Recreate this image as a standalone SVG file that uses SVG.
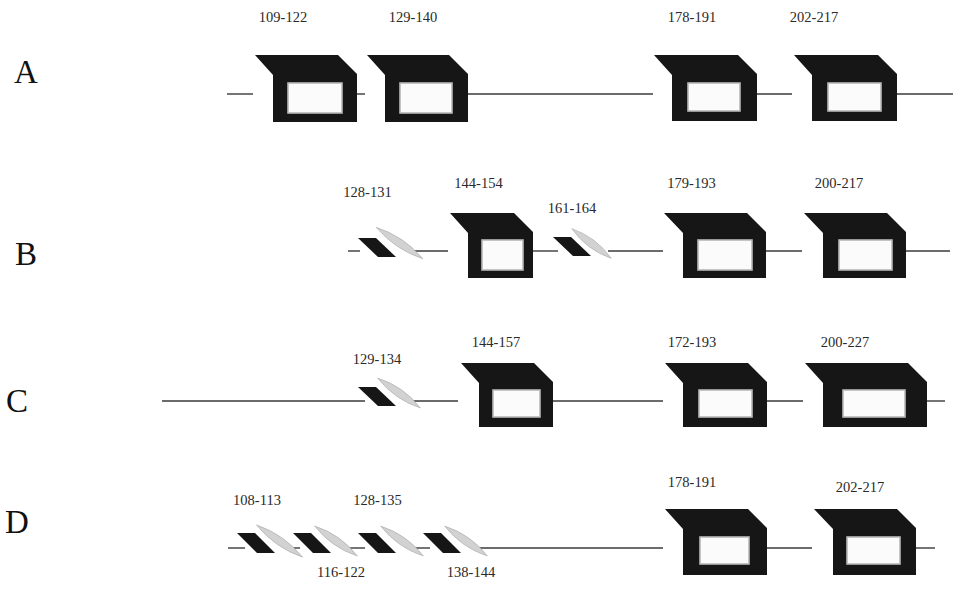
<svg xmlns="http://www.w3.org/2000/svg" xmlns:xlink="http://www.w3.org/1999/xlink" width="969" height="600" viewBox="0 0 969 600">
<style>
.bg{fill:#fff}
.box{fill:#161616}
.win{fill:#fbfbfb;stroke:#b8b8b8;stroke-width:1.6}
.ln{stroke:#3a3a3a;stroke-width:1.4;fill:none}
.par{fill:#161616}
.lens{fill:#d2d2d2;stroke:#a8a8a8;stroke-width:0.6}
.lab{font-family:"Liberation Serif","Times New Roman",serif;font-size:14.5px;fill:#2a2a2a;text-anchor:middle}
.row{font-family:"Liberation Serif","Times New Roman",serif;font-size:33px;fill:#111}
</style>
<defs>
<path id="pg" d="M0,0 L18,0 L38,19 L20,19 Z"/>
<path id="lz" d="M-28,0 Q0,-8 28,0 Q0,8 -28,0 Z"/>
</defs>
<rect class="bg" x="0" y="0" width="969" height="600"/>

<g id="row-labels">
<text class="row" x="14" y="83">A</text>
<text class="row" x="15" y="265">B</text>
<text class="row" x="6" y="412">C</text>
<text class="row" x="5" y="533">D</text>
</g>

<g id="connectors">
<line class="ln" x1="227" y1="94" x2="253" y2="94"/>
<line class="ln" x1="357" y1="94" x2="365" y2="94"/>
<line class="ln" x1="468" y1="94" x2="653" y2="94"/>
<line class="ln" x1="757" y1="94" x2="792" y2="94"/>
<line class="ln" x1="897" y1="94" x2="953" y2="94"/>

<line class="ln" x1="348" y1="251" x2="360" y2="251"/>
<line class="ln" x1="413" y1="251" x2="448" y2="251"/>
<line class="ln" x1="533" y1="251" x2="558" y2="251"/>
<line class="ln" x1="608" y1="251" x2="663" y2="251"/>
<line class="ln" x1="766" y1="251" x2="802" y2="251"/>
<line class="ln" x1="906" y1="251" x2="950" y2="251"/>

<line class="ln" x1="162" y1="401" x2="365" y2="401"/>
<line class="ln" x1="413" y1="401" x2="458" y2="401"/>
<line class="ln" x1="553" y1="401" x2="663" y2="401"/>
<line class="ln" x1="767" y1="401" x2="803" y2="401"/>
<line class="ln" x1="927" y1="401" x2="945" y2="401"/>

<line class="ln" x1="228" y1="548" x2="245" y2="548"/>
<line class="ln" x1="292" y1="548" x2="300" y2="548"/>
<line class="ln" x1="350" y1="548" x2="365" y2="548"/>
<line class="ln" x1="415" y1="548" x2="430" y2="548"/>
<line class="ln" x1="478" y1="548" x2="663" y2="548"/>
<line class="ln" x1="767" y1="548" x2="812" y2="548"/>
<line class="ln" x1="916" y1="548" x2="935" y2="548"/>
</g>

<!-- Row A -->
<g id="A-109-122">
<polygon class="box" points="255,55 338,55 357,74 357,122 273,122 273,75"/>
<rect class="win" x="288" y="83" width="54" height="30"/>
<text class="lab" x="283" y="22">109-122</text>
</g>
<g id="A-129-140">
<polygon class="box" points="367,55 449,55 468,74 468,122 385,122 385,75"/>
<rect class="win" x="400" y="83" width="52" height="30"/>
<text class="lab" x="413" y="22">129-140</text>
</g>
<g id="A-178-191">
<polygon class="box" points="654,55 738,55 757,74 757,121 672,121 672,75"/>
<rect class="win" x="688" y="83" width="52" height="28"/>
<text class="lab" x="692" y="22">178-191</text>
</g>
<g id="A-202-217">
<polygon class="box" points="794,55 878,55 897,74 897,121 812,121 812,75"/>
<rect class="win" x="828" y="83" width="53" height="28"/>
<text class="lab" x="814" y="22">202-217</text>
</g>

<!-- Row B -->
<g id="B-128-131">
<use xlink:href="#lz" class="lens" transform="translate(399.5,243) rotate(34)"/>
<use xlink:href="#pg" class="par" transform="translate(358,238)"/>
<text class="lab" x="367.5" y="197">128-131</text>
</g>
<g id="B-144-154">
<polygon class="box" points="450,213 514,213 533,232 533,278 468,278 468,233"/>
<rect class="win" x="482" y="240" width="41" height="30"/>
<text class="lab" x="478.5" y="188">144-154</text>
</g>
<g id="B-161-164">
<use xlink:href="#lz" class="lens" transform="translate(591.5,243.5) rotate(37) scale(0.88,1)"/>
<use xlink:href="#pg" class="par" transform="translate(553,237)"/>
<text class="lab" x="572" y="213">161-164</text>
</g>
<g id="B-179-193">
<polygon class="box" points="664,213 747,213 766,232 766,278 683,278 683,233"/>
<rect class="win" x="698" y="240" width="54" height="30"/>
<text class="lab" x="691.5" y="188">179-193</text>
</g>
<g id="B-200-217">
<polygon class="box" points="804,213 887,213 906,232 906,278 823,278 823,233"/>
<rect class="win" x="839" y="240" width="53" height="30"/>
<text class="lab" x="839" y="188">200-217</text>
</g>

<!-- Row C -->
<g id="C-129-134">
<use xlink:href="#lz" class="lens" transform="translate(399,393) rotate(35) scale(0.93,1)"/>
<use xlink:href="#pg" class="par" transform="translate(358,387)"/>
<text class="lab" x="377" y="364">129-134</text>
</g>
<g id="C-144-157">
<polygon class="box" points="461,363 534,363 553,382 553,427 479,427 479,383"/>
<rect class="win" x="493" y="390" width="47" height="27"/>
<text class="lab" x="496" y="347">144-157</text>
</g>
<g id="C-172-193">
<polygon class="box" points="665,363 748,363 767,382 767,427 683,427 683,383"/>
<rect class="win" x="699" y="390" width="53" height="27"/>
<text class="lab" x="692" y="347">172-193</text>
</g>
<g id="C-200-227">
<polygon class="box" points="805,363 908,363 927,382 927,427 823,427 823,383"/>
<rect class="win" x="843" y="390" width="62" height="27"/>
<text class="lab" x="845" y="347">200-227</text>
</g>

<!-- Row D -->
<g id="D-108-113">
<use xlink:href="#lz" class="lens" transform="translate(279.5,541) rotate(35)"/>
<use xlink:href="#pg" class="par" transform="translate(237,533) scale(1,1.05)"/>
<text class="lab" x="257" y="505">108-113</text>
</g>
<g id="D-116-122">
<use xlink:href="#lz" class="lens" transform="translate(336,541) rotate(35) scale(0.93,1)"/>
<use xlink:href="#pg" class="par" transform="translate(293,533) scale(1,1.05)"/>
<text class="lab" x="341" y="577">116-122</text>
</g>
<g id="D-128-135">
<use xlink:href="#lz" class="lens" transform="translate(402,541) rotate(35) scale(0.93,1)"/>
<use xlink:href="#pg" class="par" transform="translate(358,533) scale(1,1.05)"/>
<text class="lab" x="377.5" y="505">128-135</text>
</g>
<g id="D-138-144">
<use xlink:href="#lz" class="lens" transform="translate(466,541) rotate(35) scale(0.93,1)"/>
<use xlink:href="#pg" class="par" transform="translate(423,533) scale(1,1.05)"/>
<text class="lab" x="471" y="577">138-144</text>
</g>
<g id="D-178-191">
<polygon class="box" points="665,509 748,509 767,528 767,575 683,575 683,529"/>
<rect class="win" x="700" y="537" width="49" height="27"/>
<text class="lab" x="692" y="487">178-191</text>
</g>
<g id="D-202-217">
<polygon class="box" points="814,509 897,509 916,528 916,575 833,575 833,529"/>
<rect class="win" x="847" y="537" width="53" height="27"/>
<text class="lab" x="860" y="492">202-217</text>
</g>
</svg>
